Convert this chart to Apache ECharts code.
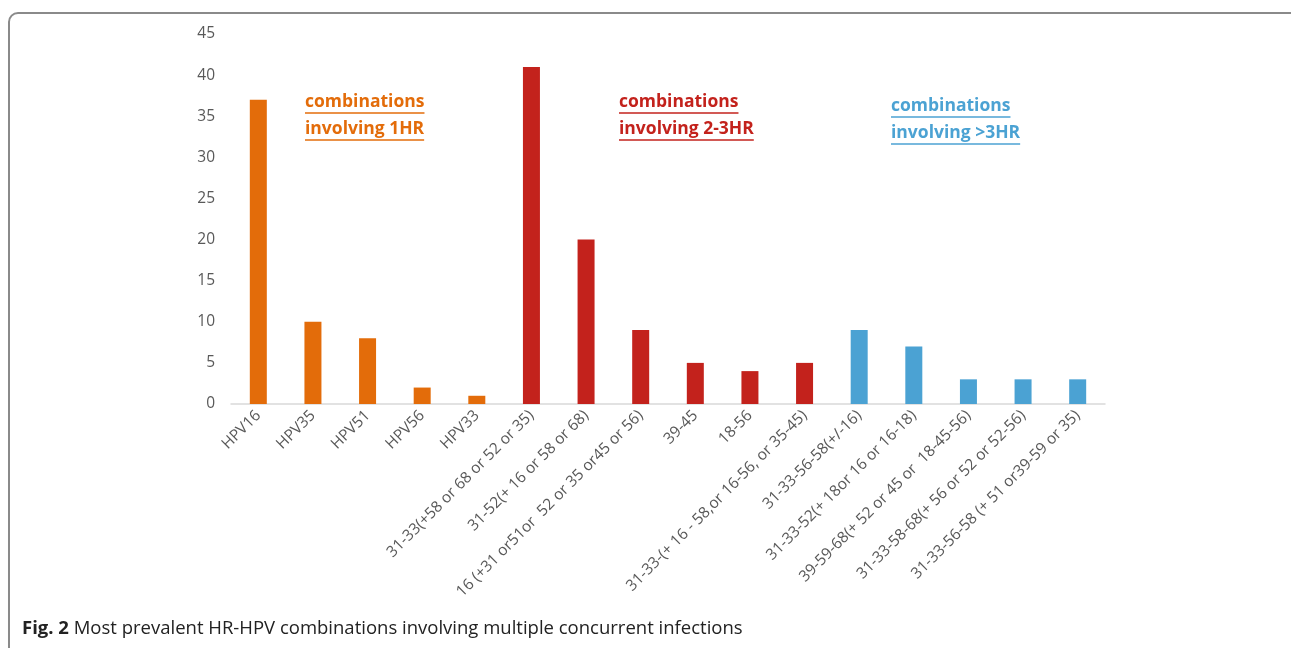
<!DOCTYPE html>
<html>
<head>
<meta charset="utf-8">
<script src="https://cdn.jsdelivr.net/npm/echarts@6/dist/echarts.min.js"></script>
<style>
html,body{margin:0;padding:0;background:#fff;}
#chart{width:1291px;height:648px;}
</style>
</head>
<body>
<div id="chart"></div>
<script>
const categories = [
  "HPV16","HPV35","HPV51","HPV56","HPV33",
  "31-33(+58 or 68 or 52 or 35)",
  "31-52(+ 16 or 58 or 68)",
  "16 (+31 or51or  52 or 35 or45 or 56)",
  "39-45","18-56",
  "31-33-(+ 16 - 58,or 16-56, or 35-45)",
  "31-33-56-58(+/-16)",
  "31-33-52(+ 18or 16 or 16-18)",
  "39-59-68(+ 52 or 45 or  18-45-56)",
  "31-33-58-68(+ 56 or 52 or 52-56)",
  "31-33-56-58 (+ 51 or39-59 or 35)"
];
const counts = [37,10,8,2,1,41,20,9,5,4,5,9,7,3,3,3];
const groupOf = [0,0,0,0,0,1,1,1,1,1,1,2,2,2,2,2];
const groupLabels = [
  ["combinations","involving 1HR"],
  ["combinations","involving 2-3HR"],
  ["combinations","involving >3HR"]
];
const yTicks = [0,5,10,15,20,25,30,35,40,45];
const caption = ["Fig. 2", " Most prevalent HR-HPV combinations involving multiple concurrent infections"];

const groupColors = ["#E36C0A","#C3221C","#4BA2D3"];
const annPos = [[305,93],[619,93],[891,97]];
const annFont = 'bold 17.5px "Open Sans", sans-serif';

const chart = echarts.init(document.getElementById('chart'), null, {renderer:'canvas'});

const graphics = [
  {type:'rect', shape:{x:9,y:13,width:1300,height:700,r:9}, style:{fill:null,stroke:'#8a8a8a',lineWidth:2}, z:0}
];
groupLabels.forEach((lines, g) => {
  lines.forEach((t, i) => {
    const x = annPos[g][0], y = annPos[g][1] + i*27;
    graphics.push({type:'text', left:x, top:y, style:{text:t, fill:groupColors[g], font:annFont}, z:5});
    const w = echarts.format.getTextRect ? echarts.format.getTextRect(t, annFont).width : t.length*9;
    graphics.push({type:'line', shape:{x1:x,y1:y+20,x2:x+w,y2:y+20}, style:{stroke:groupColors[g],lineWidth:1.5}, z:5});
  });
});
graphics.push({type:'text', left:22, top:619, style:{
  text:'{b|'+caption[0]+'}{r|'+caption[1]+'}',
  rich:{b:{font:'bold 18.5px "Open Sans", sans-serif',fill:'#222'}, r:{font:'18.5px "Open Sans", sans-serif',fill:'#222'}}
}, z:5});

chart.setOption({
  animation:false,
  backgroundColor:'#fff',
  grid:{left:231,right:186,top:34,bottom:244,containLabel:false},
  xAxis:{
    type:'category', data:categories,
    axisLine:{lineStyle:{color:'#d9d9d9',width:1.5}},
    axisTick:{show:false},
    axisLabel:{rotate:45, interval:0, margin:9, color:'#595959', fontSize:15.5, fontFamily:'"Open Sans", sans-serif'}
  },
  yAxis:{
    type:'value', min:0, max:45, interval:5,
    axisLine:{show:false}, axisTick:{show:false}, splitLine:{show:false},
    axisLabel:{margin:16, color:'#595959', fontSize:15.5, fontFamily:'"Open Sans", sans-serif',
      formatter:v => yTicks.includes(v) ? String(v) : ''}
  },
  series:[{
    type:'bar', barWidth:17,
    data:counts.map((v,i)=>({value:v,itemStyle:{color:groupColors[groupOf[i]]}}))
  }],
  graphic:graphics
});
</script>
</body>
</html>
